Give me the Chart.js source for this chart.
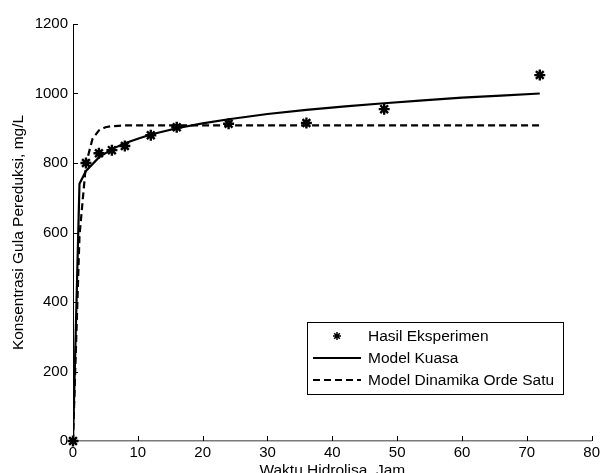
<!DOCTYPE html>
<html>
<head>
<meta charset="utf-8">
<script src="https://cdn.jsdelivr.net/npm/chart.js@4.4.1/dist/chart.umd.min.js"></script>
<style>
  html, body { margin: 0; padding: 0; background: #fff; }
  #wrap { width: 603px; height: 473px; }
</style>
</head>
<body>
<div id="wrap"><canvas id="kurva"></canvas></div>
<script>
// Data hasil eksperimen
const waktuEksp = [0, 2, 4, 6, 8, 12, 16, 24, 36, 48, 72];
const konsEksp = [0, 800, 828, 837, 849, 880, 903, 913, 915, 955, 1053];

// Model kuasa (garis penuh)
const waktuKuasa = [0, 1, 2, 4, 6, 8, 10, 12, 16, 20, 24, 30, 36, 42, 48, 54, 60, 66, 72];
const konsKuasa = [0, 740, 777, 816, 840, 857, 870, 882, 900, 914, 926, 941, 953, 963, 972, 980, 988, 994, 1000];

// Model dinamika orde satu (garis putus-putus)
const waktuOrde = [0, 1, 2, 3, 4, 5, 6, 7, 8, 12, 24, 36, 48, 60, 72];
const konsOrde = [0, 590, 797, 869, 894, 903, 906, 907, 908, 908, 908, 908, 908, 908, 908];

const xTicks = [0, 10, 20, 30, 40, 50, 60, 70, 80];
const yTicks = [0, 200, 400, 600, 800, 1000, 1200];

const toPoints = (xs, ys) => xs.map((x, i) => ({ x: x, y: ys[i] }));

const FONT = "'Liberation Sans', Arial, sans-serif";

// tick kecil mengarah ke dalam, gaya MATLAB
const inwardTicks = {
  id: "inwardTicks",
  afterDraw(chart) {
    const { ctx, chartArea, scales } = chart;
    ctx.save();
    ctx.lineWidth = 1;
    ctx.strokeStyle = "#000";
    ctx.beginPath();
    xTicks.forEach(v => {
      const px = Math.round(scales.x.getPixelForValue(v)) + 0.5;
      ctx.moveTo(px, chartArea.bottom);
      ctx.lineTo(px, chartArea.bottom - 5);
    });
    yTicks.forEach(v => {
      const py = Math.round(scales.y.getPixelForValue(v)) + 0.5;
      ctx.moveTo(chartArea.left, py);
      ctx.lineTo(chartArea.left + 5, py);
    });
    ctx.stroke();
    ctx.restore();
  }
};

// legenda di dalam area grafik
const boxLegend = {
  id: "boxLegend",
  afterDraw(chart) {
    const { ctx } = chart;
    const left = 307, top = 322, w = 256, h = 72, row = 22;
    ctx.save();
    ctx.fillStyle = "#fff";
    ctx.fillRect(left, top, w, h);
    ctx.strokeStyle = "#000";
    ctx.lineWidth = 1;
    ctx.strokeRect(left + 0.5, top + 0.5, w, h);
    ctx.font = "15.5px " + FONT;
    ctx.textBaseline = "middle";
    chart.data.datasets.forEach((ds, i) => {
      const y = top + 14 + i * row;
      if (ds.showLine) {
        ctx.beginPath();
        ctx.setLineDash(ds.borderDash || []);
        ctx.lineWidth = ds.borderWidth;
        ctx.strokeStyle = ds.borderColor;
        ctx.moveTo(left + 6, y);
        ctx.lineTo(left + 54, y);
        ctx.stroke();
        ctx.setLineDash([]);
      } else {
        ctx.lineWidth = 1.5;
        ctx.strokeStyle = "#000";
        Chart.helpers.drawPoint(ctx, { pointStyle: "star", radius: 4, rotation: 0, borderWidth: 1.5 }, left + 30, y);
      }
      ctx.fillStyle = "#000";
      ctx.fillText(ds.label, left + 61, y + 1);
    });
    ctx.restore();
  }
};

new Chart(document.getElementById("kurva"), {
  type: "scatter",
  data: {
    datasets: [
      {
        label: "Hasil Eksperimen",
        data: toPoints(waktuEksp, konsEksp),
        showLine: false,
        pointStyle: "star",
        pointRadius: 5.5,
        pointBorderWidth: 2.4,
        borderColor: "#000",
        backgroundColor: "#000",
        clip: false,
        order: 0
      },
      {
        label: "Model Kuasa",
        data: toPoints(waktuKuasa, konsKuasa),
        showLine: true,
        borderColor: "#000",
        borderWidth: 2.2,
        pointRadius: 0,
        tension: 0,
        order: 1
      },
      {
        label: "Model Dinamika Orde Satu",
        data: toPoints(waktuOrde, konsOrde),
        showLine: true,
        borderColor: "#000",
        borderWidth: 2.2,
        borderDash: [7, 4],
        pointRadius: 0,
        tension: 0,
        order: 2
      }
    ]
  },
  options: {
    responsive: true,
    maintainAspectRatio: false,
    animation: false,
    layout: { padding: { left: 0, right: 8, top: 24, bottom: 0 } },
    plugins: {
      legend: { display: false },
      tooltip: { enabled: false }
    },
    scales: {
      x: {
        type: "linear",
        min: 0,
        max: 80,
        afterBuildTicks: s => { s.ticks = xTicks.map(v => ({ value: v })); },
        afterFit: s => { s.height = 32; },
        grid: { display: false, drawTicks: false },
        border: { color: "#7a7a7a", width: 1.5 },
        ticks: { color: "#000", padding: 3, font: { family: FONT, size: 15 }, maxRotation: 0, callback: v => String(v) },
        title: {
          display: true,
          text: "Waktu Hidrolisa, Jam",
          color: "#000",
          font: { family: FONT, size: 15.5 },
          padding: { top: 2, bottom: -7 }
        }
      },
      y: {
        min: 0,
        max: 1200,
        afterBuildTicks: s => { s.ticks = yTicks.map(v => ({ value: v })); },
        afterFit: s => { s.width = 73; },
        grid: { display: false, drawTicks: false },
        border: { color: "#000", width: 1 },
        ticks: { color: "#000", padding: 5, font: { family: FONT, size: 15 }, callback: v => String(v) },
        title: {
          display: true,
          text: "Konsentrasi Gula Pereduksi, mg/L",
          color: "#000",
          font: { family: FONT, size: 15.5 },
          padding: { top: 9, bottom: 0 }
        }
      }
    }
  },
  plugins: [inwardTicks, boxLegend]
});
</script>
</body>
</html>
